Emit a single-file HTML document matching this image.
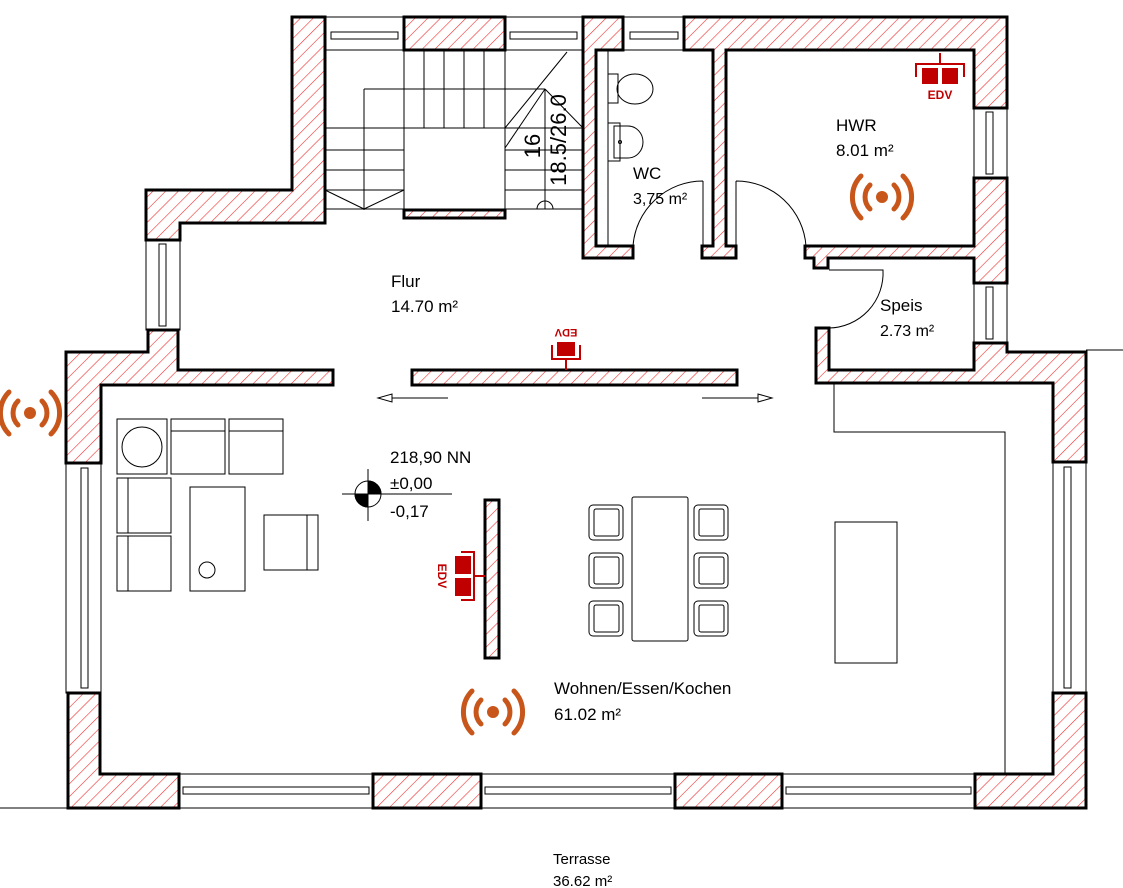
<!DOCTYPE html>
<html><head><meta charset="utf-8"><style>
html,body{margin:0;padding:0;background:#fff;}
svg{display:block;font-family:"Liberation Sans",Arial,sans-serif;}
</style></head><body>
<svg width="1123" height="888" viewBox="0 0 1123 888" xmlns="http://www.w3.org/2000/svg">
<defs>
<pattern id="h" patternUnits="userSpaceOnUse" width="9" height="9" patternTransform="rotate(45)">
<rect width="9" height="9" fill="#fff"/><line x1="0" y1="0" x2="0" y2="9" stroke="#f03030" stroke-width="1.2"/>
</pattern>
<g id="wifi" fill="none" stroke="#c8561a" stroke-width="5" stroke-linecap="round">
<circle cx="0" cy="0" r="6" fill="#c8561a" stroke="none"/>
<path d="M-12,-12 A17,17 0 0 0 -12,12"/><path d="M12,-12 A17,17 0 0 1 12,12"/>
<path d="M-21,-21 A30,30 0 0 0 -21,21"/><path d="M21,-21 A30,30 0 0 1 21,21"/>
</g>
</defs>

<line x1="0" y1="808" x2="68" y2="808" stroke="#000" stroke-width="1"/>
<line x1="1086" y1="350" x2="1123" y2="350" stroke="#000" stroke-width="1"/>

<g fill="none" stroke="#000" stroke-width="1">
<rect x="325" y="17" width="79" height="33"/><rect x="331" y="32" width="67" height="7"/>
<rect x="505" y="17" width="78" height="33"/><rect x="510" y="32" width="67" height="7"/>
<rect x="623" y="17" width="61" height="33"/><rect x="630" y="32" width="48" height="7"/>
<rect x="146" y="240" width="34" height="90"/><rect x="159" y="244" width="7" height="82"/>
<rect x="66" y="463" width="35" height="230"/><rect x="81" y="468" width="7" height="220"/>
<rect x="974" y="108" width="33" height="70"/><rect x="986" y="112" width="7" height="62"/>
<rect x="974" y="283" width="33" height="60"/><rect x="986" y="287" width="7" height="52"/>
<rect x="1053" y="462" width="33" height="231"/><rect x="1064" y="467" width="7" height="221"/>
<rect x="179" y="774" width="194" height="34"/><rect x="183" y="787" width="186" height="7"/>
<rect x="481" y="774" width="194" height="34"/><rect x="485" y="787" width="186" height="7"/>
<rect x="782" y="774" width="193" height="34"/><rect x="786" y="787" width="185" height="7"/>
</g>

<g fill="none" stroke="#000" stroke-width="1">
<line x1="325" y1="50" x2="583" y2="50"/>
<line x1="364" y1="89" x2="545" y2="89"/>
<line x1="364" y1="89" x2="364" y2="210"/>
<line x1="325" y1="128" x2="583" y2="128"/>
<line x1="325" y1="150" x2="404" y2="150"/>
<line x1="325" y1="170" x2="404" y2="170"/>
<line x1="325" y1="190" x2="404" y2="190"/>
<line x1="325" y1="209" x2="583" y2="209"/>
<line x1="404" y1="50" x2="404" y2="210"/>
<line x1="505" y1="50" x2="505" y2="210"/>
<line x1="424" y1="50" x2="424" y2="128"/><line x1="444" y1="50" x2="444" y2="128"/>
<line x1="464" y1="50" x2="464" y2="128"/><line x1="484" y1="50" x2="484" y2="128"/>
<line x1="505" y1="150" x2="583" y2="150"/><line x1="505" y1="170" x2="583" y2="170"/>
<line x1="505" y1="190" x2="583" y2="190"/>
<line x1="325" y1="190" x2="364" y2="209"/><line x1="404" y1="190" x2="364" y2="209"/>
<line x1="505" y1="128" x2="567" y2="52"/><line x1="505" y1="148" x2="545" y2="89"/>
<line x1="545" y1="89" x2="583" y2="128"/><line x1="545" y1="89" x2="545" y2="209"/>
<path d="M537,209 A8,8 0 0 1 553,209"/>
</g>
<text transform="translate(540,146) rotate(-90)" font-size="22" text-anchor="middle">16</text>
<text transform="translate(566,140) rotate(-90)" font-size="22" text-anchor="middle">18.5/26.0</text>

<g fill="none" stroke="#000" stroke-width="1">
<line x1="608" y1="50" x2="608" y2="246"/>
<rect x="608" y="74" width="10" height="29"/>
<ellipse cx="635" cy="89" rx="18" ry="15"/>
<rect x="608" y="123" width="12" height="38"/>
<path d="M614,126 L628,126 A15,16 0 0 1 628,158 L614,158 Z"/>
<circle cx="620" cy="142" r="1.5"/>
<path d="M703,181 L703,246 M703,181 A70,70 0 0 0 633,246"/>
<path d="M736,181 L736,246 M736,181 A70,70 0 0 1 806,246"/>
<path d="M829,270 L883,270 A55,55 0 0 1 829,328"/>
</g>

<g fill="url(#h)" stroke="#000" stroke-width="3" stroke-linejoin="miter">
<polygon points="146,190 292,190 292,17 325,17 325,223 180,223 180,240 146,240"/>
<rect x="404" y="17" width="101" height="33"/>
<rect x="404" y="210" width="101" height="8"/>
<polygon points="583,17 623,17 623,50 596,50 596,246 633,246 633,258 583,258"/>
<polygon points="684,17 1007,17 1007,108 974,108 974,50 726,50 726,246 736,246 736,258 702,258 702,246 713,246 713,50 684,50"/>
<polygon points="974,178 1007,178 1007,283 974,283 974,258 828,258 828,268 814,268 814,258 805,258 805,246 974,246"/>
<polygon points="974,343 1007,343 1007,352 1086,352 1086,462 1053,462 1053,383 816,383 816,328 829,328 829,370 974,370"/>
<polygon points="66,352 148,352 148,330 178,330 178,370 333,370 333,385 101,385 101,463 66,463"/>
<rect x="412" y="370" width="325" height="15"/>
<rect x="485" y="500" width="14" height="158"/>
<polygon points="68,693 100,693 100,774 179,774 179,808 68,808"/>
<rect x="373" y="774" width="108" height="34"/>
<rect x="675" y="774" width="107" height="34"/>
<polygon points="975,774 1053,774 1053,693 1086,693 1086,808 975,808"/>
</g>

<g stroke="#000" stroke-width="1" fill="#fff">
<line x1="390" y1="398" x2="448" y2="398"/><polygon points="378,398 392,394 392,402"/>
<line x1="702" y1="398" x2="758" y2="398"/><polygon points="772,398 758,394 758,402"/>
</g>

<g fill="none" stroke="#000" stroke-width="1">
<path d="M834,383 L834,432 L1005,432 L1005,774"/>
<rect x="835" y="522" width="62" height="141"/>
</g>

<g fill="none" stroke="#000" stroke-width="1">
<rect x="117" y="419" width="50" height="55"/><circle cx="142" cy="447" r="20"/>
<rect x="171" y="419" width="54" height="55"/><line x1="171" y1="431" x2="225" y2="431"/>
<rect x="229" y="419" width="54" height="55"/><line x1="229" y1="431" x2="283" y2="431"/>
<rect x="117" y="478" width="54" height="55"/><line x1="128" y1="478" x2="128" y2="533"/>
<rect x="117" y="536" width="54" height="55"/><line x1="128" y1="536" x2="128" y2="591"/>
<rect x="190" y="487" width="55" height="104"/><circle cx="207" cy="570" r="8"/>
<rect x="264" y="515" width="54" height="55"/><line x1="307" y1="515" x2="307" y2="570"/>
<rect x="632" y="497" width="56" height="144" rx="2"/>
<g id="ch"><rect x="589" y="505" width="34" height="35" rx="4"/><rect x="594" y="509" width="25" height="27" rx="2"/></g>
<use href="#ch" y="48"/><use href="#ch" y="96"/>
<use href="#ch" x="105"/><use href="#ch" x="105" y="48"/><use href="#ch" x="105" y="96"/>
</g>

<g stroke="#000" stroke-width="1">
<line x1="342" y1="494" x2="452" y2="494"/><line x1="368" y1="469" x2="368" y2="521"/>
<circle cx="368" cy="494" r="13" fill="#fff"/>
<path d="M368,494 L368,481 A13,13 0 0 1 381,494 Z M368,494 L368,507 A13,13 0 0 1 355,494 Z" fill="#000"/>
</g>
<text x="390" y="463" font-size="17">218,90 NN</text>
<text x="390" y="489" font-size="17">±0,00</text>
<text x="390" y="517" font-size="17">-0,17</text>

<g fill="#c00000" stroke="#c00000">
<g transform="translate(940,62)">
<line x1="0" y1="-9" x2="0" y2="2" stroke-width="2"/>
<path d="M-24,15 L-24,2 L24,2 L24,15" fill="none" stroke-width="2"/>
<rect x="-18" y="6" width="16" height="16" stroke="none"/><rect x="2" y="6" width="16" height="16" stroke="none"/>
<text x="0" y="37" font-size="12" font-weight="bold" text-anchor="middle" stroke="none">EDV</text>
</g>
<g transform="translate(566,342) rotate(180)">
<line x1="0" y1="-28" x2="0" y2="-17" stroke-width="2"/>
<path d="M-14,-3 L-14,-17 L14,-17 L14,-3" fill="none" stroke-width="2"/>
<rect x="-9" y="-14" width="18" height="14" stroke="none"/>
<text x="0" y="13" font-size="11" font-weight="bold" text-anchor="middle" stroke="none">EDV</text>
</g>
<g transform="translate(460,576) rotate(90)">
<line x1="0" y1="-25" x2="0" y2="-14" stroke-width="2"/>
<path d="M-24,-1 L-24,-14 L24,-14 L24,-1" fill="none" stroke-width="2"/>
<rect x="-20" y="-11" width="18" height="16" stroke="none"/><rect x="2" y="-11" width="18" height="16" stroke="none"/>
<text x="0" y="22" font-size="12" font-weight="bold" text-anchor="middle" stroke="none">EDV</text>
</g>
</g>

<use href="#wifi" x="30" y="413"/>
<use href="#wifi" x="882" y="197"/>
<use href="#wifi" x="493" y="712"/>

<g font-size="17" fill="#000">
<text x="633" y="179">WC</text><text x="633" y="204" font-size="16">3,75 m²</text>
<text x="836" y="131">HWR</text><text x="836" y="156">8.01 m²</text>
<text x="880" y="311">Speis</text><text x="880" y="336" font-size="16">2.73 m²</text>
<text x="391" y="287">Flur</text><text x="391" y="312">14.70 m²</text>
<text x="554" y="694">Wohnen/Essen/Kochen</text><text x="554" y="720">61.02 m²</text>
<text x="553" y="864" font-size="15">Terrasse</text><text x="553" y="886" font-size="15">36.62 m²</text>
</g>
</svg>
</body></html>
